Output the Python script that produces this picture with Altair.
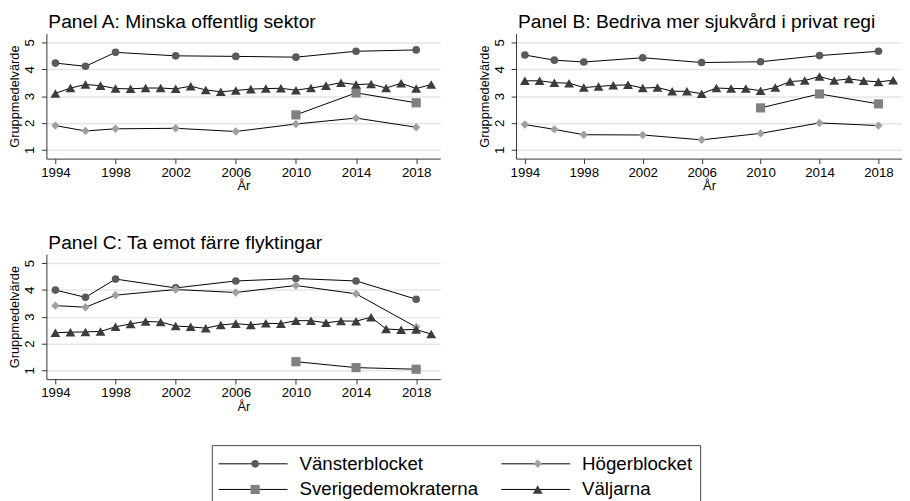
import altair as alt
import pandas as pd

# ---------------- data ----------------
series_names = ["Vänsterblocket", "Högerblocket", "Sverigedemokraterna", "Väljarna"]
panel_ids = ["A", "B", "C"]
panel_titles = [
    "Panel A: Minska offentlig sektor",
    "Panel B: Bedriva mer sjukvård i privat regi",
    "Panel C: Ta emot färre flyktingar",
]

years_all = list(range(1994, 2020))
years_elec = [1994, 1996, 1998, 2002, 2006, 2010, 2014, 2018]
years_sd = [2010, 2014, 2018]
x_ticks = [1994, 1998, 2002, 2006, 2010, 2014, 2018]
y_ticks = [1, 2, 3, 4, 5]

# Panel A
A_vanster = [4.23, 4.11, 4.63, 4.50, 4.48, 4.45, 4.67, 4.72]
A_hoger = [1.90, 1.70, 1.78, 1.80, 1.68, 1.96, 2.18, 1.84]
A_sd = [2.30, 3.12, 2.75]
A_valjarna = [3.10, 3.30, 3.43, 3.39, 3.28, 3.27, 3.30, 3.30, 3.27, 3.37, 3.23, 3.16, 3.21,
              3.26, 3.28, 3.29, 3.22, 3.30, 3.39, 3.50, 3.43, 3.45, 3.30, 3.48, 3.28, 3.43]

# Panel B
B_vanster = [4.53, 4.34, 4.27, 4.43, 4.25, 4.28, 4.51, 4.67]
B_hoger = [1.94, 1.76, 1.56, 1.55, 1.37, 1.61, 2.00, 1.90]
B_sd = [2.56, 3.08, 2.71]
B_valjarna = [3.57, 3.57, 3.50, 3.48, 3.32, 3.36, 3.40, 3.42, 3.30, 3.32, 3.18, 3.18, 3.09,
              3.30, 3.28, 3.28, 3.20, 3.32, 3.54, 3.58, 3.73, 3.58, 3.64, 3.57, 3.53, 3.59]

# Panel C
C_vanster = [3.99, 3.72, 4.40, 4.07, 4.33, 4.42, 4.33, 3.65]
C_hoger = [3.41, 3.35, 3.80, 4.01, 3.90, 4.16, 3.85, 2.61]
C_sd = [1.32, 1.10, 1.04]
C_valjarna = [2.40, 2.42, 2.43, 2.45, 2.62, 2.73, 2.82, 2.80, 2.65, 2.62, 2.57, 2.69, 2.74,
              2.69, 2.75, 2.74, 2.85, 2.85, 2.77, 2.84, 2.83, 2.98, 2.54, 2.51, 2.52, 2.35]

panel_data = {
    "A": [A_vanster, A_hoger, A_sd, A_valjarna],
    "B": [B_vanster, B_hoger, B_sd, B_valjarna],
    "C": [C_vanster, C_hoger, C_sd, C_valjarna],
}
series_years = [years_elec, years_elec, years_sd, years_all]

rows = []
for pid in panel_ids:
    for name, yrs, vals in zip(series_names, series_years, panel_data[pid]):
        for yr, v in zip(yrs, vals):
            rows.append({"panel": pid, "series": name, "year": yr, "value": v})
df = pd.DataFrame(rows)

# legend layout data (column / row index of each entry)
legend_cols = [0, 1, 0, 1]
legend_rows = [0, 0, 1, 1]
leg_df = pd.DataFrame({"series": series_names, "col": legend_cols, "row": legend_rows})

# ---------------- styles ----------------
FONT = "Liberation Sans"
marker_colors = ["#5a5a5a", "#a0a0a0", "#808080", "#3c3c3c"]
marker_shapes = ["circle", "diamond", "square", "triangle-up"]
marker_sizes = [60, 100, 64, 76]

color_scale = alt.Scale(domain=series_names, range=marker_colors)
shape_scale = alt.Scale(domain=series_names, range=marker_shapes)
size_scale = alt.Scale(domain=series_names, range=marker_sizes)

PH = 127


def panel(pid, title, pw):
    d = df[df["panel"] == pid]
    base = alt.Chart(d).encode(
        x=alt.X("year:Q",
                scale=alt.Scale(domain=[1993.4, 2019.6], nice=False, zero=False),
                axis=alt.Axis(values=x_ticks, format="d", title="År", grid=False,
                              labelFlush=False, titlePadding=1)),
        y=alt.Y("value:Q",
                scale=alt.Scale(domain=[0.67, 5.33], nice=False, zero=False),
                axis=alt.Axis(values=y_ticks, title="Gruppmedelvärde", grid=True,
                              labelAngle=270, labelAlign="center", labelBaseline="bottom",
                              labelPadding=5, titlePadding=1)),
    )
    lines = base.mark_line(color="black", strokeWidth=1).encode(detail="series:N")
    pts = base.mark_point(filled=True, opacity=1, strokeWidth=0).encode(
        color=alt.Color("series:N", scale=color_scale, legend=None),
        shape=alt.Shape("series:N", scale=shape_scale, legend=None),
        size=alt.Size("series:N", scale=size_scale, legend=None),
    )
    return alt.layer(lines, pts).properties(
        width=pw, height=PH,
        title=alt.TitleParams(title, anchor="start", frame="group", fontSize=19.5,
                              fontWeight="normal", font=FONT, color="black", offset=1, dx=2),
    )


pA = panel("A", panel_titles[0], 400)
pB = panel("B", panel_titles[1], 392)
pC = panel("C", panel_titles[2], 400)

grid = alt.concat(pA, pB, pC, columns=2, spacing={"row": 40, "column": 39})

# legend drawn as its own small chart
LW, LH = 496, 64
leg_base = alt.Chart(leg_df).encode(
    x=alt.X("col:Q", scale=alt.Scale(domain=[0, LW / 287], nice=False, zero=False), axis=None),
    y=alt.Y("row:Q", scale=alt.Scale(domain=[-0.73, 1.73], reverse=True, nice=False, zero=False),
            axis=None),
)
leg_rule = leg_base.transform_calculate(col2="datum.col").mark_rule(
    color="black", strokeWidth=1, xOffset=7, x2Offset=77
).encode(x2="col2:Q")
leg_pts = leg_base.mark_point(filled=True, opacity=1, strokeWidth=0, xOffset=44).encode(
    color=alt.Color("series:N", scale=color_scale, legend=None),
    shape=alt.Shape("series:N", scale=shape_scale, legend=None),
    size=alt.Size("series:N", scale=size_scale, legend=None),
)
leg_text = leg_base.mark_text(align="left", baseline="middle", fontSize=19, font=FONT,
                              color="black", xOffset=89).encode(text="series:N")
legend = alt.layer(leg_rule, leg_pts, leg_text).properties(
    width=LW, height=LH, view=alt.ViewBackground(stroke="#444444", strokeWidth=1)
)

# invisible spacer that pushes the legend box to the right
spacer = alt.Chart(leg_df).mark_point(opacity=0).encode(
    x=alt.X("col:Q", axis=None), y=alt.Y("row:Q", axis=None)
).properties(width=164, height=LH)

bottom = alt.hconcat(spacer, legend, spacing=0)

chart = alt.vconcat(grid, bottom, spacing=29).properties(
    padding={"left": 1, "top": 0, "right": 0, "bottom": 0}
).configure(font=FONT).configure_view(stroke=None).configure_axis(
    domainColor="#333333", tickColor="#333333", tickSize=5,
    labelFont=FONT, titleFont=FONT, labelFontSize=13.5, titleFontSize=13,
    titleFontWeight="normal", labelColor="black", titleColor="black",
    gridColor="#e6e6e6", gridWidth=1.5,
)

chart.save("out.html", embed_options={"renderer": "svg", "actions": False})
